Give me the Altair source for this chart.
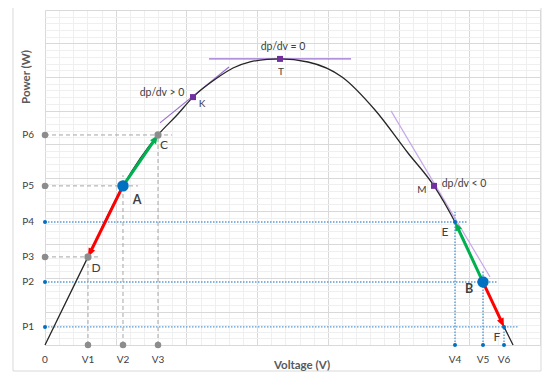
import math
import altair as alt
import pandas as pd

# ---------------- data ----------------
curve_v = [0, 6.08, 11.03, 15.98, 18.67, 20.93, 24.32, 26.59, 29.0, 31.4, 33.23, 37.19, 42.0, 46.67, 51.33, 55.01, 57.98, 61.94, 64.91, 66.19]
curve_p = [0, 26.3, 47.5, 62.7, 68.66, 74.0, 79.7, 82.69, 84.48, 85.28, 85.4, 84.48, 80.0, 70.15, 57.31, 47.5, 36.7, 18.8, 5.4, 0]

point_names = ["D", "A", "C", "K", "T", "M", "E", "B", "F"]
point_v = [6.08, 11.03, 15.98, 20.93, 33.23, 55.01, 57.98, 61.94, 64.91]
point_p = [26.3, 47.5, 62.7, 74.0, 85.4, 47.5, 36.7, 18.8, 5.4]

p_labels = ["P1", "P2", "P3", "P4", "P5", "P6"]
p_values = [5.4, 18.8, 26.3, 36.7, 47.5, 62.7]
p_guide_end = [66.9, 63.9, 7.78, 59.8, 13.15, 17.96]

v_labels = ["0", "V1", "V2", "V3", "V4", "V5", "V6"]
v_values = [0, 6.08, 11.03, 15.98, 57.98, 61.94, 64.91]
v_guide_end = [0, 26.3, 50.7, 62.7, 39.7, 22.4, 5.4]

gray_levels = ["P3", "P5", "P6", "V1", "V2", "V3"]

tangent_names = ["K", "T", "M"]
tangent_v0 = [16.26, 23.19, 48.93]
tangent_p0 = [66.3, 85.4, 69.9]
tangent_v1 = [26.02, 43.28, 62.93]
tangent_p1 = [83.0, 85.4, 20.3]
slope_texts = ["dp/dv > 0", "dp/dv = 0", "dp/dv < 0"]

arrow_from = ["A", "A", "B", "B"]
arrow_to = ["D", "C", "E", "F"]
arrow_kind = ["down", "up", "up", "down"]

# ---------------- layout / style ----------------
W, H = 495, 335
XMAX, YMAX = 70, 100
SX, SY = W / XMAX, H / YMAX
FONT = "Lato"
TXT = "#404040"
RED, GREEN = "#ff0000", "#00b050"
BLUE = "#0070c0"
PURPLE = "#7030a0"
GRAYDOT = "#8c8c8c"

xs = alt.Scale(domain=[0, XMAX], nice=False, zero=False)
ys = alt.Scale(domain=[0, YMAX], nice=False, zero=False)

grid_color = {"condition": {"test": "datum.value % 10 === 0", "value": "#d9d9d9"}, "value": "#efefef"}
x_grid_axis = alt.Axis(values=list(range(0, XMAX + 1, 2)), grid=True, gridColor=grid_color, gridWidth=1,
                       labels=False, ticks=False, domain=False, title=None)
y_grid_axis = alt.Axis(values=list(range(0, YMAX + 1, 2)), grid=True, gridColor=grid_color, gridWidth=1,
                       labels=False, ticks=False, domain=False, title=None)


def X(f):
    return alt.X(f, type="quantitative", scale=xs, axis=x_grid_axis)


def Y(f):
    return alt.Y(f, type="quantitative", scale=ys, axis=y_grid_axis)


pts = {n: (v, p) for n, v, p in zip(point_names, point_v, point_p)}
layers = []

curve_df = pd.DataFrame({"v": curve_v, "p": curve_p})

# frame of the chart area
frame = alt.Chart(pd.DataFrame({"a": [0]})).mark_rect(fillOpacity=0, stroke="#d9d9d9", strokeWidth=1).encode(
    x=alt.value(-32), x2=alt.value(496), y=alt.value(-20), y2=alt.value(361))
layers.append(frame)

# guides
hdf = pd.DataFrame({"name": p_labels, "p": p_values, "x0": [0] * len(p_values), "x1": p_guide_end})
vdf = pd.DataFrame({"name": v_labels, "v": v_values, "y0": [0] * len(v_values), "y1": v_guide_end})
vdf = vdf[vdf["name"] != "0"]
hg = hdf[hdf["name"].isin(gray_levels)]
hb = hdf[~hdf["name"].isin(gray_levels)]
vg = vdf[vdf["name"].isin(gray_levels)]
vb = vdf[~vdf["name"].isin(gray_levels)]

layers.append(alt.Chart(hb).mark_rule(color="#5b9bd5", strokeWidth=1.4, strokeDash=[1.5, 1.5]).encode(
    x=X("x0"), x2="x1", y=Y("p")))
layers.append(alt.Chart(vb).mark_rule(color="#5b9bd5", strokeWidth=1.4, strokeDash=[1.5, 1.5]).encode(
    x=X("v"), y=Y("y0"), y2="y1"))
layers.append(alt.Chart(hg).mark_rule(color="#a6a6a6", strokeWidth=1, strokeDash=[4, 3]).encode(
    x=X("x0"), x2="x1", y=Y("p")))
layers.append(alt.Chart(vg).mark_rule(color="#a6a6a6", strokeWidth=1, strokeDash=[4, 3]).encode(
    x=X("v"), y=Y("y0"), y2="y1"))

# tangents
tdf = pd.DataFrame({"name": tangent_names, "v0": tangent_v0, "p0": tangent_p0, "v1": tangent_v1, "p1": tangent_p1})
layers.append(alt.Chart(tdf[tdf["name"] != "M"]).mark_rule(color="#9a6fd0", strokeWidth=1.2).encode(
    x=X("v0"), y=Y("p0"), x2="v1", y2="p1"))
layers.append(alt.Chart(tdf[tdf["name"] == "M"]).mark_rule(color="#c7a8e8", strokeWidth=1.2).encode(
    x=X("v0"), y=Y("p0"), x2="v1", y2="p1"))

# curve
layers.append(alt.Chart(curve_df).mark_line(interpolate="monotone", color="#262626", strokeWidth=1.3).encode(
    x=X("v"), y=Y("p")))

# arrows
HEAD = "M0,0L-0.9,2.2L0.9,2.2Z"
for a, b, kind in zip(arrow_from, arrow_to, arrow_kind):
    (x0, y0), (x1, y1) = pts[a], pts[b]
    dxp, dyp = (x1 - x0) * SX, (y1 - y0) * SY
    ln = math.hypot(dxp, dyp)
    ux, uy = dxp / ln, dyp / ln
    back = 6.0
    xe, ye = x1 - back * ux / SX, y1 - back * uy / SY
    ang = math.degrees(math.atan2(dxp, dyp)) % 360
    col = RED if kind == "down" else GREEN
    seg = pd.DataFrame({"x0": [x0], "y0": [y0], "x1": [xe], "y1": [ye]})
    layers.append(alt.Chart(seg).mark_rule(color=col, strokeWidth=3).encode(
        x=X("x0"), y=Y("y0"), x2="x1", y2="y1"))
    tip = pd.DataFrame({"x": [x1], "y": [y1]})
    layers.append(alt.Chart(tip).mark_point(shape=HEAD, size=64, filled=True, color=col, opacity=1,
                                            angle=ang).encode(x=X("x"), y=Y("y")))

# axis dots
adp = pd.DataFrame({"name": p_labels, "x": [0] * len(p_values), "y": p_values})
adv = pd.DataFrame({"name": v_labels, "x": v_values, "y": [0] * len(v_values)})
adv = adv[adv["name"] != "0"]
axis_dots = pd.concat([adp, adv])
layers.append(alt.Chart(axis_dots[axis_dots["name"].isin(gray_levels)]).mark_circle(
    size=42, color=GRAYDOT, opacity=1).encode(x=X("x"), y=Y("y")))
layers.append(alt.Chart(axis_dots[~axis_dots["name"].isin(gray_levels)]).mark_circle(
    size=16, color=BLUE, opacity=1).encode(x=X("x"), y=Y("y")))

pdf = pd.DataFrame({"name": point_names, "v": point_v, "p": point_p})
layers.append(alt.Chart(pdf[pdf["name"].isin(["E", "F"])]).mark_circle(size=16, color=BLUE, opacity=1).encode(
    x=X("v"), y=Y("p")))
layers.append(alt.Chart(pdf[pdf["name"].isin(["C", "D"])]).mark_circle(size=52, color=GRAYDOT, opacity=1).encode(
    x=X("v"), y=Y("p")))
layers.append(alt.Chart(pdf[pdf["name"].isin(["A", "B"])]).mark_circle(size=130, color=BLUE, opacity=1).encode(
    x=X("v"), y=Y("p")))
layers.append(alt.Chart(pdf[pdf["name"].isin(tangent_names)]).mark_point(
    shape="square", size=36, filled=True, color=PURPLE, opacity=1).encode(x=X("v"), y=Y("p")))

# point labels
label_style = {
    "A": (14, 14, 12.5, "bold"), "B": (-14, 7, 12.5, "bold"),
    "C": (6, 10, 12, "normal"), "D": (8, 11, 12, "normal"),
    "E": (-10, 10, 12, "normal"), "F": (-7, 10, 12, "normal"),
    "K": (9, 7, 10, "normal"), "T": (1, 13, 10, "normal"), "M": (-12, 4, 10, "normal"),
}
for n in point_names:
    dx, dy, fs, fw = label_style[n]
    layers.append(alt.Chart(pdf[pdf["name"] == n]).mark_text(
        dx=dx, dy=dy, fontSize=fs, fontWeight=fw, font=FONT, color=TXT, align="center", baseline="middle").encode(
        x=X("v"), y=Y("p"), text="name"))

slope_off = {"K": (-31, -4), "T": (3, -12), "M": (30, -2)}
sdf = pd.DataFrame({"name": tangent_names, "text": slope_texts,
                    "v": [pts[n][0] for n in tangent_names], "p": [pts[n][1] for n in tangent_names]})
for n in tangent_names:
    dx, dy = slope_off[n]
    layers.append(alt.Chart(sdf[sdf["name"] == n]).mark_text(
        dx=dx, dy=dy, fontSize=10.5, font=FONT, color=TXT, align="center", baseline="middle").encode(
        x=X("v"), y=Y("p"), text="text"))

# tick labels
ptl = pd.DataFrame({"label": p_labels, "x": [0] * len(p_values), "y": p_values})
vtl = pd.DataFrame({"label": v_labels, "x": v_values, "y": [0] * len(v_values)})
layers.append(alt.Chart(ptl).mark_text(dx=-11, fontSize=10, font=FONT, color=TXT, align="right",
                                       baseline="middle").encode(x=X("x"), y=Y("y"), text="label"))
layers.append(alt.Chart(vtl).mark_text(dy=15, fontSize=10, font=FONT, color=TXT, align="center",
                                       baseline="middle").encode(x=X("x"), y=Y("y"), text="label"))

# axis titles
title_df = pd.DataFrame({"t": ["Power (W)"]})
layers.append(alt.Chart(title_df).mark_text(angle=270, fontSize=11.5, fontWeight="bold", font=FONT,
                                            color="#595959", align="center", baseline="middle").encode(
    x=alt.value(-18), y=alt.value(67), text="t"))
title_df2 = pd.DataFrame({"t": ["Voltage (V)"]})
layers.append(alt.Chart(title_df2).mark_text(fontSize=11.5, fontWeight="bold", font=FONT,
                                             color="#595959", align="center", baseline="middle").encode(
    x=alt.value(257), y=alt.value(356), text="t"))

chart = alt.layer(*layers).properties(
    width=W, height=H,
    autosize=alt.AutoSizeParams(type="none"),
    padding={"left": 37, "top": 2, "right": 2, "bottom": 27},
    background="white",
).configure_view(stroke=None)

chart.save("out.html", embed_options={"renderer": "svg", "actions": False})
